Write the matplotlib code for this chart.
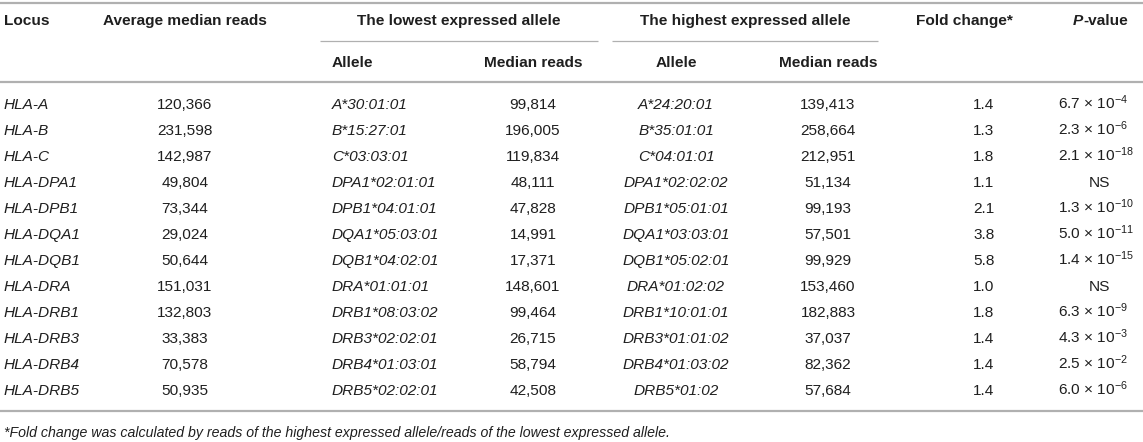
import matplotlib
matplotlib.use("Agg")
import matplotlib.pyplot as plt

plt.rcParams['font.family'] = ['Liberation Sans', 'DejaVu Sans']
plt.rcParams['mathtext.fontset'] = 'custom'
plt.rcParams['mathtext.rm'] = 'Liberation Sans'
plt.rcParams['mathtext.it'] = 'Liberation Sans:italic'
plt.rcParams['mathtext.bf'] = 'Liberation Sans:bold'

# ---- data ----
loci = ["HLA-A", "HLA-B", "HLA-C", "HLA-DPA1", "HLA-DPB1", "HLA-DQA1",
        "HLA-DQB1", "HLA-DRA", "HLA-DRB1", "HLA-DRB3", "HLA-DRB4", "HLA-DRB5"]
avg_reads = [120366, 231598, 142987, 49804, 73344, 29024,
             50644, 151031, 132803, 33383, 70578, 50935]
low_allele = ["A*30:01:01", "B*15:27:01", "C*03:03:01", "DPA1*02:01:01",
              "DPB1*04:01:01", "DQA1*05:03:01", "DQB1*04:02:01", "DRA*01:01:01",
              "DRB1*08:03:02", "DRB3*02:02:01", "DRB4*01:03:01", "DRB5*02:02:01"]
low_reads = [99814, 196005, 119834, 48111, 47828, 14991,
             17371, 148601, 99464, 26715, 58794, 42508]
high_allele = ["A*24:20:01", "B*35:01:01", "C*04:01:01", "DPA1*02:02:02",
               "DPB1*05:01:01", "DQA1*03:03:01", "DQB1*05:02:01", "DRA*01:02:02",
               "DRB1*10:01:01", "DRB3*01:01:02", "DRB4*01:03:02", "DRB5*01:02"]
high_reads = [139413, 258664, 212951, 51134, 99193, 57501,
              99929, 153460, 182883, 37037, 82362, 57684]
fold_change = [1.4, 1.3, 1.8, 1.1, 2.1, 3.8, 5.8, 1.0, 1.8, 1.4, 1.4, 1.4]
p_mantissa = ["6.7", "2.3", "2.1", None, "1.3", "5.0", "1.4", None, "6.3", "4.3", "2.5", "6.0"]
p_exponent = [-4, -6, -18, None, -10, -11, -15, None, -9, -3, -2, -6]
footnote = ("*Fold change was calculated by reads of the highest expressed "
            "allele/reads of the lowest expressed allele.")

# ---- layout ----
W, H = 1143, 442
fig = plt.figure(figsize=(W / 100, H / 100), dpi=100)
ax = fig.add_axes([0, 0, 1, 1])
ax.set_xlim(0, W)
ax.set_ylim(H, 0)
ax.axis('off')

TXT = '#1f1f1f'
RULE = '#b0b0b0'
FS = 11.1
BASE = 5.4  # baseline offset from row centre (px)

def put(x, y, s, ha='center', style='normal', weight='normal', size=FS):
    ax.text(x, y + BASE, s, ha=ha, va='baseline', color=TXT, fontsize=size,
            fontstyle=style, fontweight=weight)

x_locus = 4
x_avg = 185
x_lall = 332
x_lrd = 533
x_hall = 676
x_hrd = 828
x_fc = 984
x_fc_head = 964
x_p = 1058
x_p_head = 1083
x_ns = 1100

y_top = 3
y_h1 = 20
y_span = 41
y_h2 = 62
y_hline = 82
y_row0 = 104
dy = 26

# rules
ax.plot([0, W], [y_top, y_top], color=RULE, lw=1.6, solid_capstyle='butt')
ax.plot([0, W], [y_hline, y_hline], color=RULE, lw=1.6, solid_capstyle='butt')
ax.plot([320, 598], [y_span, y_span], color=RULE, lw=0.9, solid_capstyle='butt')
ax.plot([612, 878], [y_span, y_span], color=RULE, lw=0.9, solid_capstyle='butt')

# headers
put(x_locus, y_h1, "Locus", ha='left', weight='bold')
put(x_avg, y_h1, "Average median reads", weight='bold')
put(459, y_h1, "The lowest expressed allele", weight='bold')
put(745, y_h1, "The highest expressed allele", weight='bold')
put(x_fc_head, y_h1, "Fold change*", weight='bold')
put(x_p_head, y_h1, "P", ha='right', style='italic', weight='bold')
put(x_p_head, y_h1, "-value", ha='left', weight='bold')
put(x_lall, y_h2, "Allele", ha='left', weight='bold')
put(x_lrd, y_h2, "Median reads", weight='bold')
put(x_hall, y_h2, "Allele", weight='bold')
put(x_hrd, y_h2, "Median reads", weight='bold')

# rows
for i in range(len(loci)):
    y = y_row0 + i * dy
    put(x_locus, y, loci[i], ha='left', style='italic')
    put(x_avg, y, f"{avg_reads[i]:,}")
    put(x_lall, y, low_allele[i], ha='left', style='italic')
    put(x_lrd, y, f"{low_reads[i]:,}")
    put(x_hall, y, high_allele[i], style='italic')
    put(x_hrd, y, f"{high_reads[i]:,}")
    put(x_fc, y, f"{fold_change[i]:.1f}")
    if p_mantissa[i] is None:
        put(x_ns, y, "NS")
    else:
        put(x_p, y, f"{p_mantissa[i]} \u00d7 10$^{{{p_exponent[i]}}}$", ha='left')

y_last = y_row0 + (len(loci) - 1) * dy
y_bot = y_last + 21
ax.plot([0, W], [y_bot, y_bot], color=RULE, lw=1.6, solid_capstyle='butt')
ax.text(x_locus, y_bot + 21 + 4.5, footnote, ha='left', va='baseline', color=TXT,
        fontsize=10.2, fontstyle='italic')

fig.savefig("out.png", dpi=100)
